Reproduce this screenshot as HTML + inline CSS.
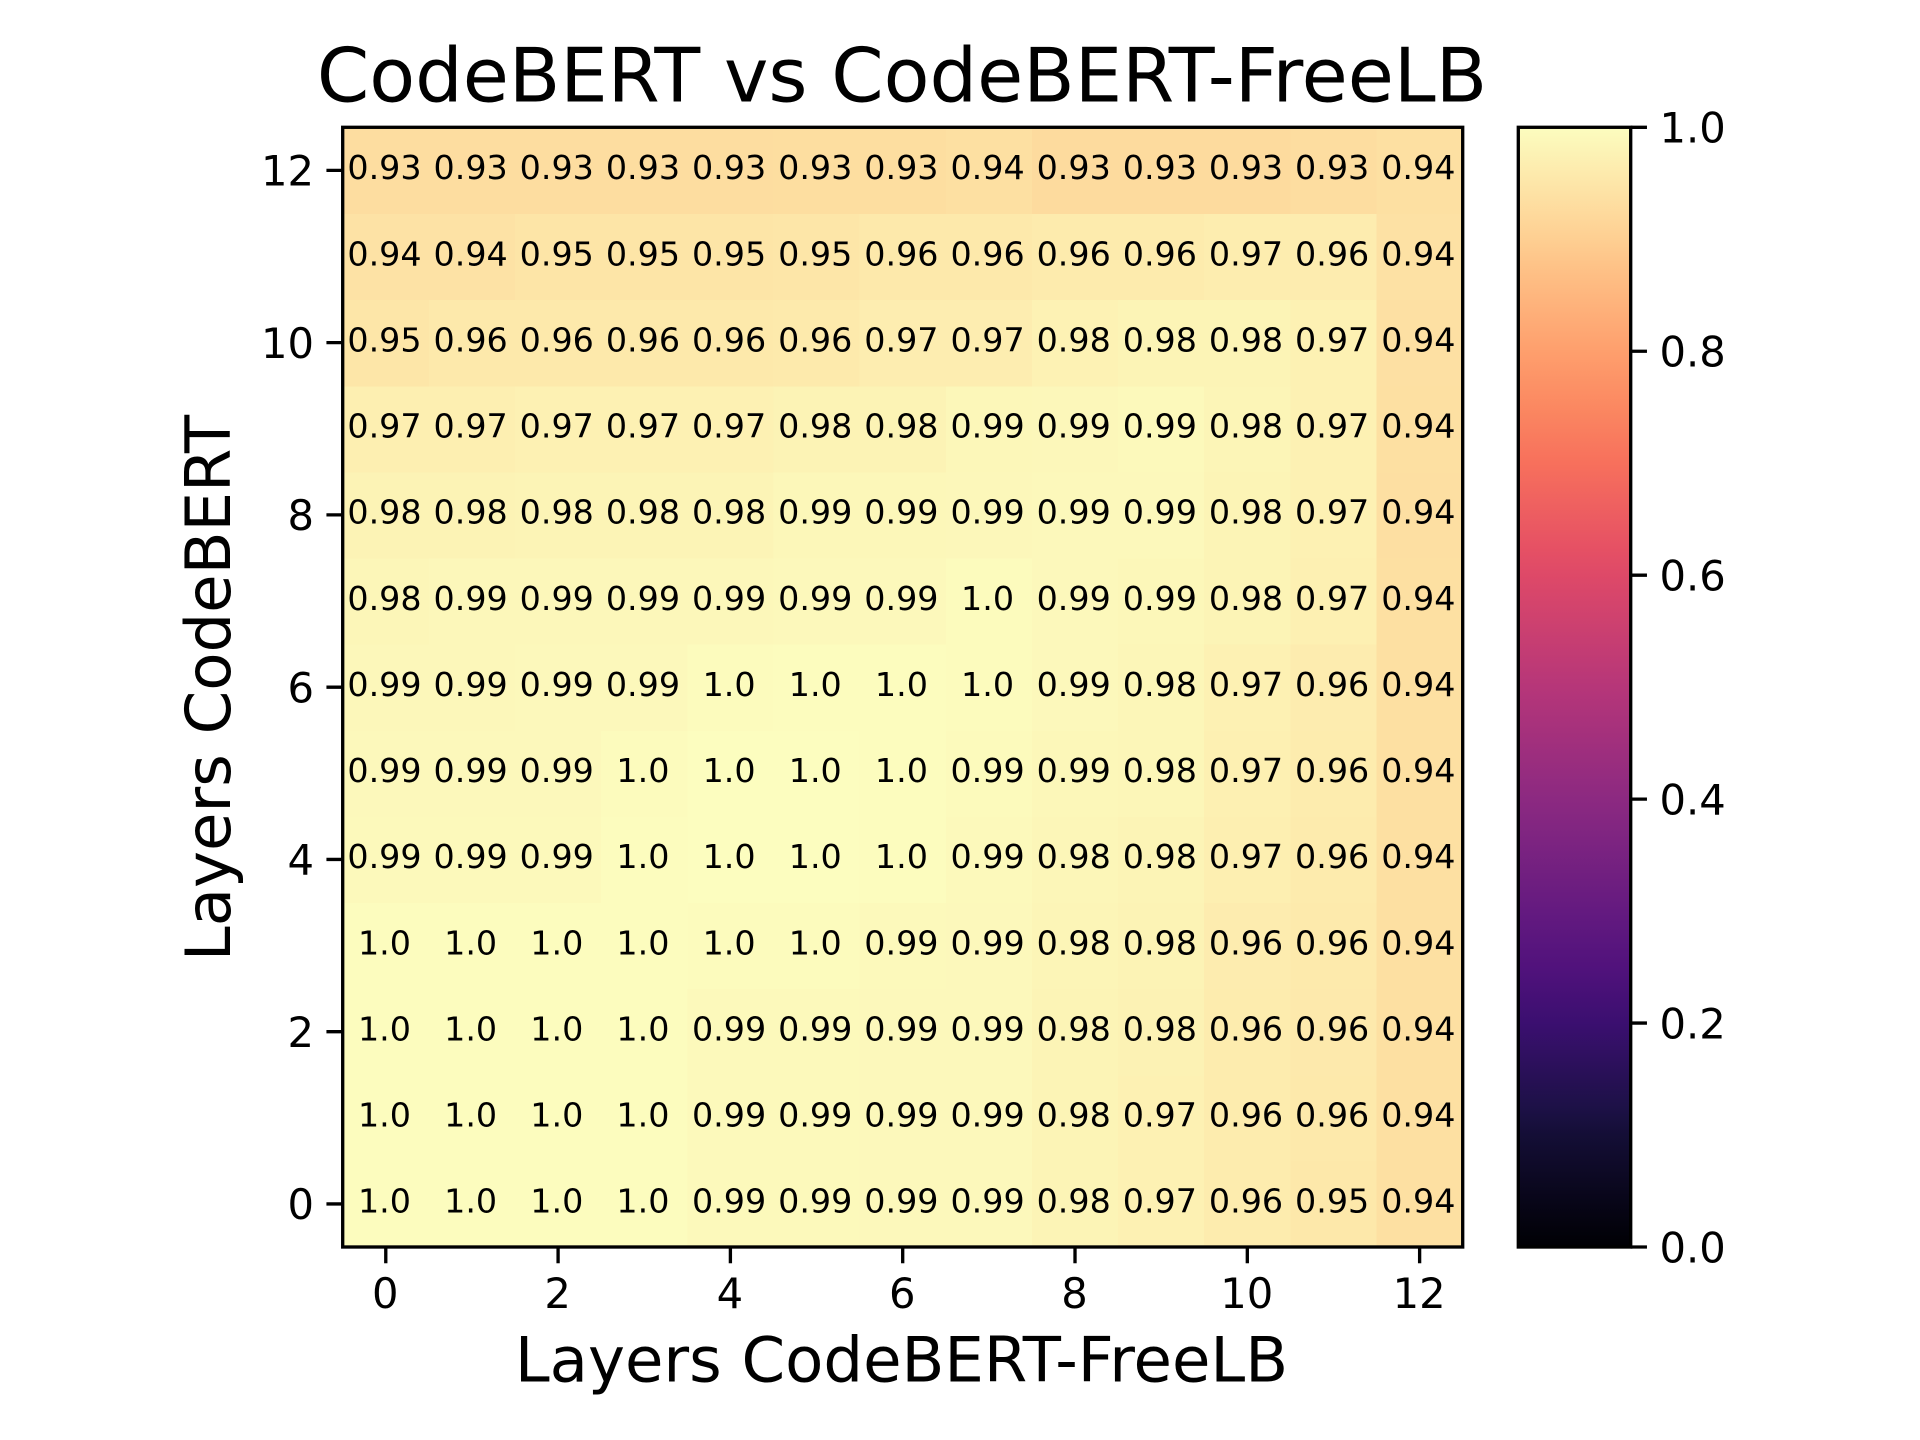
<!DOCTYPE html>
<html lang="en">
<head>
<meta charset="utf-8">
<title>CodeBERT vs CodeBERT-FreeLB</title>
<style>
  html, body { margin: 0; padding: 0; background: #fff; }
  svg { display: block; }
  text { font-family: "DejaVu Sans", "Liberation Sans", sans-serif; fill: #000; }
</style>
</head>
<body>
<svg id="chart" xmlns="http://www.w3.org/2000/svg" width="1920" height="1440" viewBox="0 0 1920 1440">
  <defs>
    <linearGradient id="magmaGradient" x1="0" y1="1" x2="0" y2="0"></linearGradient>
  </defs>
  <rect x="0" y="0" width="1920" height="1440" fill="#ffffff"/>
  <g id="cells"></g>
  <g id="cellLabels"></g>
  <rect x="342.7" y="127.3" width="1120" height="1119.7" fill="none" stroke="#000" stroke-width="3.33"/>
  <g id="xAxis"></g>
  <g id="yAxis"></g>
  <rect x="1518.3" y="127.3" width="112.4" height="1119.7" fill="url(#magmaGradient)"/>
  <rect x="1518.3" y="127.3" width="112.4" height="1119.7" fill="none" stroke="#000" stroke-width="3.33"/>
  <g id="colorbarAxis"></g>
  <text x="902" y="101.7" font-size="75" text-anchor="middle">CodeBERT vs CodeBERT-FreeLB</text>
  <text x="901.5" y="1381.7" font-size="62.5" text-anchor="middle">Layers CodeBERT-FreeLB</text>
  <text x="0" y="0" font-size="62.5" text-anchor="middle" transform="translate(230 688) rotate(-90)">Layers CodeBERT</text>
</svg>
<script>
// Categories (layer indices) and tick labels
const xCategories = [0, 1, 2, 3, 4, 5, 6, 7, 8, 9, 10, 11, 12];
const yCategories = [0, 1, 2, 3, 4, 5, 6, 7, 8, 9, 10, 11, 12];
const xTickLabels = [0, 2, 4, 6, 8, 10, 12];
const yTickLabels = [0, 2, 4, 6, 8, 10, 12];
const colorbarTickLabels = ["0.0", "0.2", "0.4", "0.6", "0.8", "1.0"];

// Heatmap values, one array per row of the y axis
const row0  = [0.998, 0.998, 0.998, 0.997, 0.992, 0.992, 0.990, 0.990, 0.980, 0.974, 0.962, 0.954, 0.936];
const row1  = [0.998, 0.998, 0.998, 0.997, 0.992, 0.992, 0.990, 0.990, 0.980, 0.974, 0.962, 0.956, 0.936];
const row2  = [0.998, 0.998, 0.998, 0.998, 0.992, 0.992, 0.990, 0.990, 0.980, 0.976, 0.962, 0.957, 0.936];
const row3  = [0.998, 0.998, 0.998, 0.998, 0.996, 0.996, 0.992, 0.990, 0.982, 0.978, 0.964, 0.958, 0.936];
const row4  = [0.992, 0.992, 0.992, 0.998, 0.999, 0.999, 0.997, 0.992, 0.984, 0.980, 0.970, 0.960, 0.936];
const row5  = [0.990, 0.990, 0.990, 0.996, 0.999, 0.999, 0.998, 0.994, 0.987, 0.984, 0.972, 0.962, 0.936];
const row6  = [0.988, 0.988, 0.990, 0.990, 0.996, 0.998, 0.997, 0.995, 0.990, 0.984, 0.974, 0.964, 0.936];
const row7  = [0.984, 0.988, 0.988, 0.988, 0.988, 0.990, 0.990, 0.995, 0.990, 0.986, 0.980, 0.972, 0.936];
const row8  = [0.978, 0.978, 0.980, 0.980, 0.980, 0.986, 0.986, 0.988, 0.990, 0.990, 0.980, 0.973, 0.935];
const row9  = [0.970, 0.970, 0.973, 0.973, 0.973, 0.978, 0.978, 0.986, 0.988, 0.992, 0.983, 0.974, 0.936];
const row10 = [0.950, 0.956, 0.956, 0.956, 0.956, 0.958, 0.966, 0.966, 0.975, 0.980, 0.980, 0.974, 0.938];
const row11 = [0.942, 0.942, 0.947, 0.947, 0.947, 0.950, 0.956, 0.956, 0.960, 0.960, 0.965, 0.964, 0.940];
const row12 = [0.930, 0.930, 0.930, 0.931, 0.931, 0.932, 0.932, 0.936, 0.926, 0.926, 0.926, 0.930, 0.936];
const heatmapRows = [row0, row1, row2, row3, row4, row5, row6, row7, row8, row9, row10, row11, row12];

// Magma colormap stops: positions and colours
const magmaPositions = [0, 0.1, 0.125, 0.2, 0.25, 0.3, 0.375, 0.4, 0.5, 0.6, 0.625, 0.7, 0.75, 0.8, 0.875, 0.9, 1];
const magmaColors = ["#000004", "#140e36", "#1d1147", "#3b0f70", "#51127c", "#641a80", "#822681", "#8c2981", "#b63679", "#de4968", "#e65164", "#f7705c", "#fb8861", "#fe9f6d", "#fec287", "#fecf92", "#fcfdbf"];

const SVG_NS = "http://www.w3.org/2000/svg";
const AXES = { left: 342.7, right: 1462.7, top: 127.3, bottom: 1247 };
const CBAR = { left: 1518.3, right: 1630.7, top: 127.3, bottom: 1247 };
const TICK_LEN = 14.6 + 1.67;

function xScale(c) {
  return AXES.left + (c + 0.5) * (AXES.right - AXES.left) / xCategories.length;
}
function yScale(r) {
  return AXES.bottom - (r + 0.5) * (AXES.bottom - AXES.top) / yCategories.length;
}
function cbarScale(v) {
  return CBAR.bottom - v * (CBAR.bottom - CBAR.top);
}
function hexToRgb(h) {
  return [parseInt(h.slice(1, 3), 16), parseInt(h.slice(3, 5), 16), parseInt(h.slice(5, 7), 16)];
}
function magma(v) {
  const t = Math.max(0, Math.min(1, v));
  let i = 0;
  while (i < magmaPositions.length - 2 && t > magmaPositions[i + 1]) i++;
  const f = (t - magmaPositions[i]) / (magmaPositions[i + 1] - magmaPositions[i]);
  const a = hexToRgb(magmaColors[i]);
  const b = hexToRgb(magmaColors[i + 1]);
  return "rgb(" + [0, 1, 2].map(function (k) { return Math.round(a[k] + (b[k] - a[k]) * f); }).join(",") + ")";
}
function formatValue(v) {
  const r = Math.round(v * 100) / 100;
  return r === 1 ? "1.0" : String(r);
}
function make(tag, parent) {
  const el = document.createElementNS(SVG_NS, tag);
  parent.appendChild(el);
  return el;
}
function setAttrs(el, attrs) {
  Object.keys(attrs).forEach(function (k) { el.setAttribute(k, attrs[k]); });
}

const cellsGroup = document.getElementById("cells");
const labelsGroup = document.getElementById("cellLabels");
const cellW = (AXES.right - AXES.left) / xCategories.length;
const cellH = (AXES.bottom - AXES.top) / yCategories.length;

yCategories.forEach(function (r) {
  xCategories.forEach(function (c) {
    const v = heatmapRows[r][c];
    const rect = make("rect", cellsGroup);
    
    
    setAttrs(rect, {
      x: xScale(c) - cellW / 2,
      y: yScale(r) - cellH / 2,
      width: cellW + 0.6,
      height: cellH + 0.6,
      fill: magma(v),
      "shape-rendering": "crispEdges"
    });
    const label = make("text", labelsGroup);
    
    
    setAttrs(label, { x: xScale(c) - 1.3, y: yScale(r) + 8.8, "font-size": 33.33, "text-anchor": "middle" });
    label.textContent = formatValue(v);
  });
});

const xAxisGroup = document.getElementById("xAxis");
xTickLabels.forEach(function (t) {
  const tick = make("line", xAxisGroup);
  
  
  setAttrs(tick, { x1: xScale(t), x2: xScale(t), y1: AXES.bottom, y2: AXES.bottom + TICK_LEN, stroke: "#000", "stroke-width": 3.33 });
  const label = make("text", xAxisGroup);
  
  
  setAttrs(label, { x: xScale(t) - 0.5, y: 1308, "font-size": 41.67, "text-anchor": "middle" });
  label.textContent = String(t);
});

const yAxisGroup = document.getElementById("yAxis");
yTickLabels.forEach(function (t) {
  const tick = make("line", yAxisGroup);
  
  
  setAttrs(tick, { x1: AXES.left - TICK_LEN, x2: AXES.left, y1: yScale(t), y2: yScale(t), stroke: "#000", "stroke-width": 3.33 });
  const label = make("text", yAxisGroup);
  
  
  setAttrs(label, { x: 314, y: yScale(t) + 15.3, "font-size": 41.67, "text-anchor": "end" });
  label.textContent = String(t);
});

const gradient = document.getElementById("magmaGradient");
magmaPositions.forEach(function (p, i) {
  const stop = make("stop", gradient);
  setAttrs(stop, { offset: p, "stop-color": magmaColors[i] });
});

const cbarGroup = document.getElementById("colorbarAxis");
colorbarTickLabels.forEach(function (t) {
  const v = parseFloat(t);
  const tick = make("line", cbarGroup);
  
  
  setAttrs(tick, { x1: CBAR.right, x2: CBAR.right + TICK_LEN, y1: cbarScale(v), y2: cbarScale(v), stroke: "#000", "stroke-width": 3.33 });
  const label = make("text", cbarGroup);
  
  
  setAttrs(label, { x: 1659.5, y: cbarScale(v) + 15.3, "font-size": 41.67, "text-anchor": "start" });
  label.textContent = t;
});
</script>
</body>
</html>
